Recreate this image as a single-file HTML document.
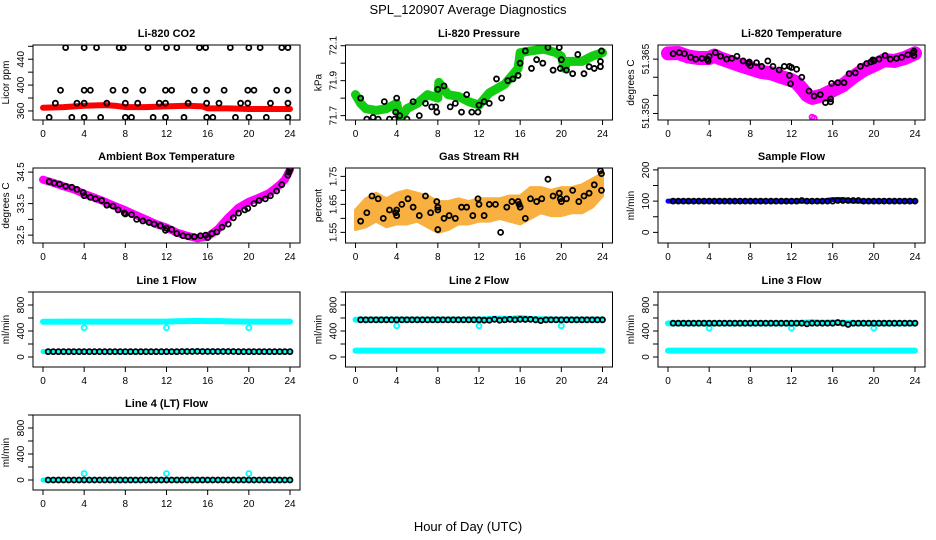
<!DOCTYPE html>
<html><head><meta charset="utf-8">
<style>
html,body{margin:0;padding:0;background:#fff;}
svg{display:block;font-family:"Liberation Sans",sans-serif;}
</style></head>
<body>
<svg id="fig" width="936" height="540" viewBox="0 0 936 540" xmlns="http://www.w3.org/2000/svg">
<rect x="0" y="0" width="936" height="540" fill="#fff"/>
<text x="468" y="14" font-size="13" text-anchor="middle">SPL_120907  Average Diagnostics</text>
<text x="468" y="531" font-size="13" text-anchor="middle">Hour of Day (UTC)</text>
</svg>
<script>
// ---------- data ----------
const xTicks = [0,4,8,12,16,20,24];
// CO2
const co2BandHours = [0,2,4,6,7,8,10,12,14,15.5,16,18,20,22,24];
const co2BandVals = [365,366,368,369,368,366,366,367,368,367,364,364,363,363,363];
const co2PtHours = [2.2,4,5.2,7.4,7.8,10.2,12,13,15.2,15.8,18.2,20,21.1,23.2,23.8,
 1.7,4,4.6,6.8,8,9.7,11.9,12.5,14.7,15.9,17.6,19.9,20.5,22.7,23.8,
 1.2,3.3,4,6.2,8,9.2,11.3,11.9,14.1,15.9,17.1,19.2,19.9,22.1,23.8,
 0.6,2.8,4,5.6,8,8.6,10.7,11.9,13.7,15.9,16.5,18.7,20,21.7,23.8];
const co2PtVals = [458,458,458,458,458,458,458,458,458,458,458,458,458,458,458,
 392,392,392,392,392,392,392,392,392,392,392,392,392,392,392,
 372,372,372,372,372,372,372,372,372,372,372,372,372,372,372,
 350,350,350,350,350,350,350,350,350,350,350,350,350,350,350];
const co2Ticks = [360,380,400,420,440,460];
const co2Labels = ["360","","400","","440",""];
// Pressure
const prBandHours = [0,0.5,1,2,3,4,4.3,4.6,5,6,7,8,8.1,9,10,11,12,13,14.5,15.8,16,17,18.3,19.5,20,20.3,20.6,22,23,24];
const prBandVals = [71.82,71.77,71.74,71.73,71.74,71.77,71.69,71.70,71.74,71.77,71.82,71.80,71.89,71.82,71.81,71.78,71.76,71.83,71.88,71.97,72.06,72.07,72.08,72.06,72.04,71.97,72.01,72.01,72.04,72.06];
const prPtHours = [0.5,1.1,1.7,2.2,2.8,3.3,3.8,3.9,4,4.3,5,5.6,6.2,6.8,7.4,7.8,7.9,8,8.6,9.2,9.7,10.3,10.8,11.3,11.9,12,12.5,13,13.7,14.2,14.8,15.3,15.8,16,16.5,17.1,17.6,18.2,18.7,19.2,19.8,19.9,20,20.5,21.1,21.6,22.2,22.7,23.2,23.8,23.8,23.9];
const prPtVals = [71.80,71.68,71.69,71.68,71.78,71.68,71.68,71.72,71.80,71.70,71.68,71.78,71.70,71.77,71.75,71.75,71.72,71.85,71.87,71.75,71.77,71.72,71.82,71.72,71.72,71.76,71.78,71.77,71.91,71.80,71.90,71.91,71.93,72.00,72.07,71.97,72.02,72.00,72.09,71.96,72.09,71.97,72.02,71.96,71.94,72.05,71.94,71.98,71.97,71.98,72.01,72.07];
const prTicks = [71.7,71.8,71.9,72.0,72.1];
const prLabels = ["71.7","","71.9","","72.1"];
// Li-820 temperature
const tmBandHours = [0,1,2,3,4,4.5,5,6,7,8,9,10,11,12,12.5,13,13.5,14,15,16,17,18,19,20,21,22,23,24];
const tmBandVals = [51.3666,51.3667,51.3657,51.3653,51.3653,51.3660,51.3653,51.3643,51.3633,51.3624,51.3615,51.3611,51.3601,51.3592,51.3585,51.3569,51.3551,51.3543,51.3550,51.3564,51.3578,51.3601,51.3620,51.3633,51.3647,51.3645,51.3653,51.3666];
const tmPtHours = [0.5,1.1,1.6,2.2,2.7,3.3,3.8,3.9,4,4.6,5.1,5.7,6.2,6.7,7.3,7.8,7.9,8,8.6,9.1,9.7,10.2,10.8,11.3,11.8,11.8,11.9,12,12.5,13,13.7,14.2,14.8,15.3,15.8,15.8,15.9,16.5,17.1,17.6,18.2,18.7,19.3,19.7,19.9,20,20.5,21.1,21.6,22.2,22.7,23.3,23.8,23.9,23.9];
const tmPtVals = [51.3665,51.3668,51.3665,51.3655,51.3650,51.3652,51.3650,51.3645,51.3658,51.3668,51.3658,51.3650,51.3652,51.3658,51.3645,51.3638,51.3642,51.3632,51.3640,51.3630,51.3645,51.3630,51.3620,51.3630,51.3630,51.3605,51.3582,51.3627,51.3622,51.3600,51.3562,51.3548,51.3552,51.3530,51.3532,51.3540,51.3583,51.3585,51.3585,51.3610,51.3612,51.3630,51.3638,51.3642,51.3648,51.3645,51.3650,51.3660,51.3650,51.3652,51.3655,51.3662,51.3667,51.3660,51.3672];
const tmOutHours = [14,14.2];
const tmOutVals = [51.3490,51.3487];
const tmTicks = [51.350,51.355,51.360,51.365];
const tmLabels = ["51.350","","","51.365"];
// Ambient box temperature
const abBandHours = [0,1,2,3,4,5,6,7,8,9,10,11,12,13,14,15,16,17,18,19,20,21,22,23,23.5,24];
const abBandVals = [34.26,34.16,34.05,33.95,33.81,33.69,33.56,33.42,33.29,33.14,33.00,32.85,32.74,32.58,32.48,32.40,32.45,32.69,33.06,33.37,33.56,33.69,33.84,34.10,34.26,34.58];
const abPtHours = [0.6,1.1,1.6,2.2,2.8,3.3,3.9,4,4.6,5.1,5.7,6.2,6.8,7.3,7.9,8,8.6,9.1,9.7,10.3,10.8,11.4,11.9,12,12.5,13,13.6,14.1,14.7,15.3,15.8,16,16.4,16.9,17.4,18,18.5,19,19.6,19.9,20.5,21,21.6,22.1,22.7,23.2,23.8,23.9,24];
const abPtVals = [34.2,34.15,34.12,34.05,34.02,33.95,33.85,33.75,33.7,33.65,33.6,33.45,33.42,33.3,33.2,33.17,33.15,33.0,32.95,32.9,32.85,32.8,32.65,32.72,32.68,32.55,32.48,32.45,32.45,32.48,32.5,32.42,32.55,32.6,32.75,32.85,33.05,33.2,33.3,33.35,33.5,33.6,33.65,33.75,33.9,34.1,34.4,34.5,34.6];
const abTicks = [32.5,33.0,33.5,34.0,34.5];
const abLabels = ["32.5","","33.5","","34.5"];
// Gas stream RH
const rhBandHours = [0,1,2,3,4,5,6,7,8,9,10,11,12,13,14,15,16,17,18,19,20,21,22,23,24];
const rhBandUpper = [1.63,1.67,1.69,1.67,1.69,1.70,1.69,1.68,1.66,1.66,1.67,1.66,1.67,1.67,1.67,1.68,1.68,1.71,1.71,1.70,1.71,1.71,1.72,1.74,1.76];
const rhBandLower = [1.56,1.57,1.59,1.57,1.58,1.58,1.59,1.57,1.55,1.56,1.58,1.58,1.59,1.59,1.60,1.59,1.58,1.60,1.62,1.61,1.61,1.62,1.62,1.64,1.68];
const rhPtHours = [0.5,1.1,1.6,2.2,2.7,3.3,3.9,4,4,4.5,5.1,5.6,6.2,6.8,7.3,7.9,8,8,8,8.6,9.1,9.7,10.3,10.8,11.4,11.9,12,12.5,13,13.6,14.1,14.7,15.2,15.8,15.9,16,16.5,17,17.6,18.1,18.7,19.2,19.8,19.9,20,20.5,21.1,21.7,22.2,22.7,23.2,23.8,23.9,23.9];
const rhPtVals = [1.59,1.62,1.68,1.67,1.60,1.63,1.62,1.63,1.61,1.65,1.67,1.64,1.61,1.68,1.62,1.66,1.64,1.63,1.56,1.60,1.61,1.60,1.64,1.64,1.61,1.67,1.65,1.61,1.65,1.65,1.55,1.64,1.66,1.66,1.65,1.64,1.60,1.67,1.66,1.67,1.74,1.68,1.69,1.67,1.66,1.67,1.70,1.66,1.68,1.69,1.72,1.77,1.76,1.70];
const rhTicks = [1.55,1.60,1.65,1.70,1.75];
const rhLabels = ["1.55","","1.65","","1.75"];
// Flows (black points at half-hour times)
const flowHours = [0.5,1,1.5,2,2.5,3,3.5,4,4.5,5,5.5,6,6.5,7,7.5,8,8.5,9,9.5,10,10.5,11,11.5,12,12.5,13,13.5,14,14.5,15,15.5,16,16.5,17,17.5,18,18.5,19,19.5,20,20.5,21,21.5,22,22.5,23,23.5,24];
const sampleBlack = [100,100,100,100,100,100,100,100,100,100,100,100,100,100,100,100,100,100,100,100,100,100,100,100,100,102,100,100,100,100,100,100,102,102,102,102,102,100,100,100,100,100,100,100,100,100,100,100];
const line1Black = [82,82,82,82,82,82,82,82,82,82,82,82,82,82,82,82,82,82,82,82,82,82,82,82,82,82,84,84,84,86,84,84,84,84,84,84,84,82,82,82,82,82,82,82,82,82,82,82];
const line2Black = [572,572,572,572,572,572,572,572,572,572,572,572,572,572,572,572,572,572,572,572,572,572,572,572,566,566,580,566,572,580,572,580,578,580,572,560,572,572,572,572,572,572,572,572,572,572,572,572];
const line3Black = [520,520,520,520,520,520,520,520,520,520,520,520,520,520,520,520,520,520,520,520,520,520,520,520,520,520,510,520,520,520,520,520,530,520,500,520,520,520,520,520,520,520,520,520,520,520,520,520];
const line4Black = [0,0,0,0,0,0,0,0,0,0,0,0,0,0,0,0,0,0,0,0,0,0,0,0,0,0,0,0,0,0,0,0,0,0,0,0,0,0,0,0,0,0,0,0,0,0,0,0];
const bandHours = [0,4,8,12,13,14,15,16,17,18,20,24];
const sampleBlue = [100,100,100,100,100,100,100,105,105,100,100,100];
const line1CyanHi = [543,545,545,545,550,552,556,552,553,548,545,545];
const line1CyanLo = [85,85,85,85,85,86,88,86,86,85,85,85];
const line2CyanHi = [575,575,575,575,585,590,585,600,585,580,575,575];
const line2CyanLo = [98,98,98,98,98,98,98,98,98,98,98,98];
const line3CyanHi = [518,518,518,518,525,535,525,530,525,520,518,518];
const line3CyanLo = [97,97,97,97,97,97,97,97,97,97,97,97];
const line4Cyan = [0,0,0,0,0,0,0,0,0,0,0,0];
const outHours = [4,12,20];
const line1Out = [450,450,450];
const line2Out = [480,480,480];
const line3Out = [445,445,445];
const line4Out = [100,100,100];
const flowTicks = [0,200,400,600,800,1000];
const flowLabels = ["0","","400","","800",""];
const sampleTicks = [0,50,100,150,200];
const sampleLabels = ["0","","100","","200"];

// ---------- layout ----------
const NS = "http://www.w3.org/2000/svg";
const svg = document.getElementById('fig');
const colLeft = [33, 345.5, 658];
const rowTop = [45, 168, 292, 415];
const PW = 267, PH = 75;

function mk(tag, attrs, parent) {
  const e = document.createElementNS(NS, tag);
  for (const k in attrs) e.setAttribute(k, attrs[k]);
  (parent || svg).appendChild(e);
  return e;
}

function makePanel(name, title, ylab, col, row, ymin, ymax, yTicks, yLabels) {
  const L = colLeft[col], T = rowTop[row];
  const g = mk('g', {});
  
  
  const xs = h => L + 10 + h * 247 / 24;
  const ys = v => T + PH - (v - ymin) / (ymax - ymin) * PH;
  const clip = mk('clipPath', {id: 'clip-' + name}, g);
  mk('rect', {x: L, y: T, width: PW, height: PH}, clip);
  const plot = mk('g', {'clip-path': 'url(#clip-' + name + ')'}, g);
  
  
  const t = mk('text', {x: L + PW / 2, y: T - 8, 'font-size': 11, 'font-weight': 'bold', 'text-anchor': 'middle'}, g);
  t.textContent = title;
  
  
  const yl = mk('text', {x: 0, y: 0, 'font-size': 10, 'text-anchor': 'middle', transform: `translate(${L - 24},${T + PH / 2}) rotate(-90)`}, g);
  yl.textContent = ylab;
  
  
  const xa = mk('g', {}, g);
  
  
  xTicks.forEach(h => {
    mk('line', {x1: xs(h), x2: xs(h), y1: T + PH, y2: T + PH + 5, stroke: '#000'}, xa);
    const lt = mk('text', {x: xs(h), y: T + PH + 17, 'font-size': 10, 'text-anchor': 'middle'}, xa);
    lt.textContent = String(h);
    
    
  });
  const ya = mk('g', {}, g);
  
  
  yTicks.forEach((v, i) => {
    mk('line', {x1: L - 5, x2: L, y1: ys(v), y2: ys(v), stroke: '#000'}, ya);
    if (yLabels[i]) {
      const lt = mk('text', {x: 0, y: 0, 'font-size': 10, 'text-anchor': 'middle', transform: `translate(${L - 9},${ys(v)}) rotate(-90)`}, ya);
      lt.textContent = yLabels[i];
      
      
    }
  });
  const box = mk('rect', {x: L, y: T, width: PW, height: PH, fill: 'none', stroke: '#000', 'stroke-width': 1}, g);
  
  
  return {plot, xs, ys};
}

function band(p, hours, vals, color, width, nm) {
  const pts = hours.map((h, i) => p.xs(h) + ',' + p.ys(vals[i])).join(' ');
  const l = mk('polyline', {points: pts, fill: 'none', stroke: color, 'stroke-width': width, 'stroke-linecap': 'round', 'stroke-linejoin': 'round'}, p.plot);
  
  
}
function points(p, hours, vals, color, r, sw, nm) {
  hours.forEach((h, i) => {
    const c = mk('circle', {cx: p.xs(h), cy: p.ys(vals[i]), r: r, fill: 'none', stroke: color, 'stroke-width': sw}, p.plot);
    
    
  });
}
function area(p, hours, up, lo, color, nm) {
  const a = hours.map((h, i) => p.xs(h) + ',' + p.ys(up[i]));
  const b = hours.map((h, i) => p.xs(h) + ',' + p.ys(lo[i])).reverse();
  const poly = mk('polygon', {points: a.concat(b).join(' '), fill: color, stroke: color, 'stroke-width': 3, 'stroke-linejoin': 'round'}, p.plot);
  
  
}

const R = 2.5, SW = 1.8;
let p = makePanel('co2', 'Li-820 CO2', 'Licor ppm', 0, 0, 346, 462, co2Ticks, co2Labels);
band(p, co2BandHours, co2BandVals, '#ff0000', 6, 'co2-band');
points(p, co2PtHours, co2PtVals, '#000', R, SW, 'co2-point');

p = makePanel('pressure', 'Li-820 Pressure', 'kPa', 1, 0, 71.675, 72.104, prTicks, prLabels);
band(p, prBandHours, prBandVals, '#11cc11', 9, 'pressure-band');
points(p, prPtHours, prPtVals, '#000', R, SW, 'pressure-point');

p = makePanel('li-temp', 'Li-820 Temperature', 'degrees C', 2, 0, 51.3482, 51.3689, tmTicks, tmLabels);
band(p, tmBandHours, tmBandVals, '#ff00ff', 14, 'li-temp-band');
points(p, tmOutHours, tmOutVals, '#ff00ff', R, SW, 'li-temp-outlier');
points(p, tmPtHours, tmPtVals, '#000', R, SW, 'li-temp-point');

p = makePanel('ambient', 'Ambient Box Temperature', 'degrees C', 0, 1, 32.25, 34.63, abTicks, abLabels);
band(p, abBandHours, abBandVals, '#ff00ff', 8, 'ambient-band');
points(p, abPtHours, abPtVals, '#000', R, SW, 'ambient-point');

p = makePanel('rh', 'Gas Stream RH', 'percent', 1, 1, 1.512, 1.78, rhTicks, rhLabels);
area(p, rhBandHours, rhBandUpper, rhBandLower, '#f8b040', 'rh-band');
points(p, rhPtHours, rhPtVals, '#000', R, SW, 'rh-point');

p = makePanel('sample-flow', 'Sample Flow', 'ml/min', 2, 1, -34, 206, sampleTicks, sampleLabels);
band(p, bandHours, sampleBlue, '#0000ff', 5, 'sample-flow-band');
points(p, flowHours, sampleBlack, '#000', R, SW, 'sample-flow-point');

p = makePanel('line1', 'Line 1 Flow', 'ml/min', 0, 2, -154, 1000, flowTicks, flowLabels);
band(p, bandHours, line1CyanHi, '#00ffff', 6, 'line1-high-band');
band(p, bandHours, line1CyanLo, '#00ffff', 5, 'line1-low-band');
points(p, outHours, line1Out, '#00ffff', R, SW, 'line1-outlier');
points(p, flowHours, line1Black, '#000', R, SW, 'line1-point');

p = makePanel('line2', 'Line 2 Flow', 'ml/min', 1, 2, -154, 1000, flowTicks, flowLabels);
band(p, bandHours, line2CyanHi, '#00ffff', 6, 'line2-high-band');
band(p, bandHours, line2CyanLo, '#00ffff', 6, 'line2-low-band');
points(p, outHours, line2Out, '#00ffff', R, SW, 'line2-outlier');
points(p, flowHours, line2Black, '#000', R, SW, 'line2-point');

p = makePanel('line3', 'Line 3 Flow', 'ml/min', 2, 2, -154, 1000, flowTicks, flowLabels);
band(p, bandHours, line3CyanHi, '#00ffff', 6, 'line3-high-band');
band(p, bandHours, line3CyanLo, '#00ffff', 6, 'line3-low-band');
points(p, outHours, line3Out, '#00ffff', R, SW, 'line3-outlier');
points(p, flowHours, line3Black, '#000', R, SW, 'line3-point');

p = makePanel('line4', 'Line 4 (LT) Flow', 'ml/min', 0, 3, -154, 1000, flowTicks, flowLabels);
band(p, bandHours, line4Cyan, '#00ffff', 5, 'line4-band');
points(p, outHours, line4Out, '#00ffff', R, SW, 'line4-outlier');
points(p, flowHours, line4Black, '#000', R, SW, 'line4-point');
</script>
</body></html>
